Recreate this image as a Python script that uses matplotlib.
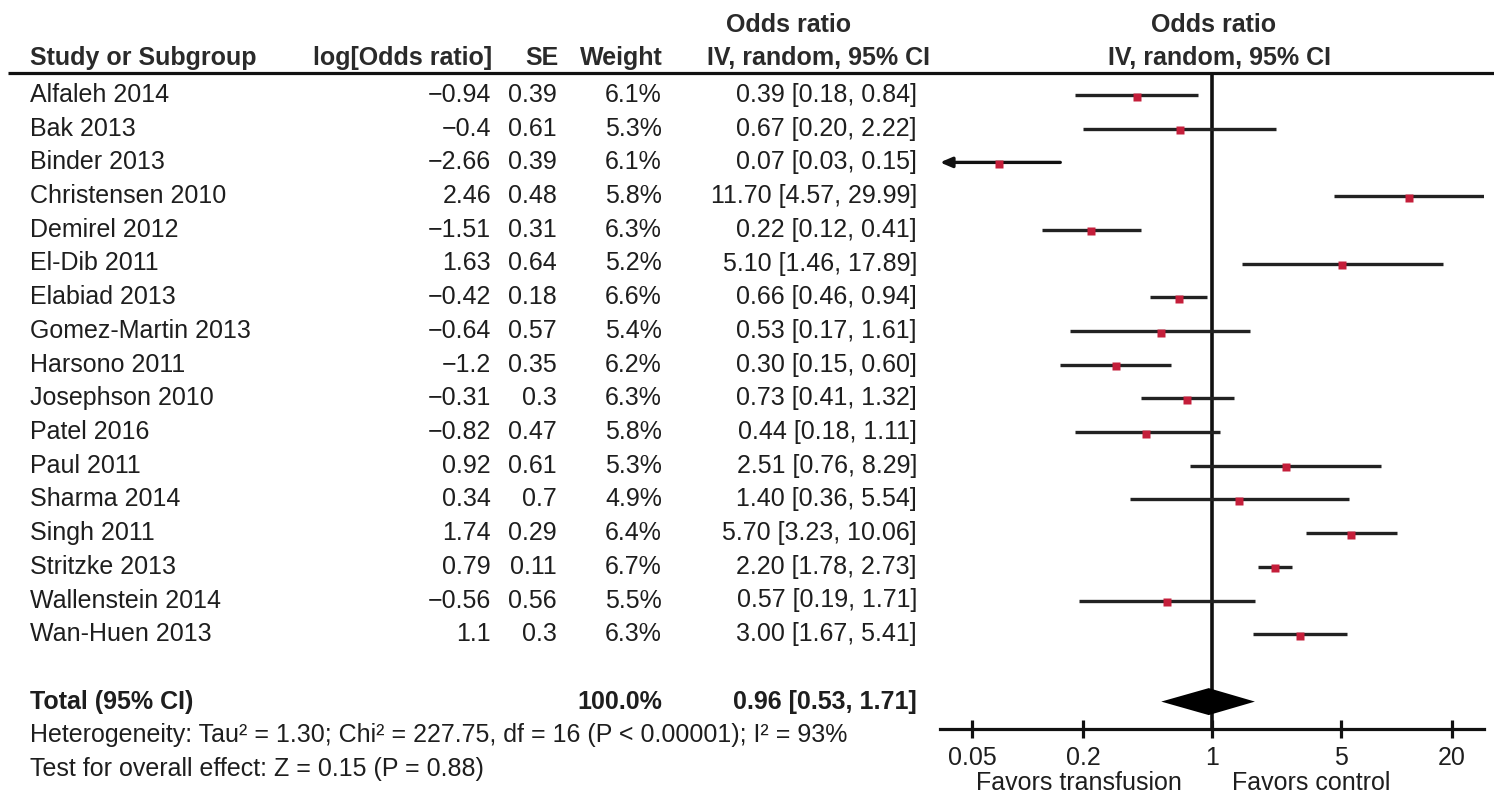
import matplotlib.pyplot as plt
import numpy as np

plt.rcParams['font.family'] = ['Liberation Sans', 'DejaVu Sans']

# study data
studies = ['Alfaleh 2014', 'Bak 2013', 'Binder 2013', 'Christensen 2010', 'Demirel 2012',
           'El-Dib 2011', 'Elabiad 2013', 'Gomez-Martin 2013', 'Harsono 2011',
           'Josephson 2010', 'Patel 2016', 'Paul 2011', 'Sharma 2014', 'Singh 2011',
           'Stritzke 2013', 'Wallenstein 2014', 'Wan-Huen 2013']
log_or = [-0.94, -0.4, -2.66, 2.46, -1.51, 1.63, -0.42, -0.64, -1.2, -0.31, -0.82,
          0.92, 0.34, 1.74, 0.79, -0.56, 1.1]
se = [0.39, 0.61, 0.39, 0.48, 0.31, 0.64, 0.18, 0.57, 0.35, 0.3, 0.47, 0.61, 0.7,
      0.29, 0.11, 0.56, 0.3]
weights = [6.1, 5.3, 6.1, 5.8, 6.3, 5.2, 6.6, 5.4, 6.2, 6.3, 5.8, 5.3, 4.9, 6.4, 6.7,
           5.5, 6.3]
odds = [0.39, 0.67, 0.07, 11.70, 0.22, 5.10, 0.66, 0.53, 0.30, 0.73, 0.44, 2.51,
        1.40, 5.70, 2.20, 0.57, 3.00]
ci_lo = [0.18, 0.20, 0.03, 4.57, 0.12, 1.46, 0.46, 0.17, 0.15, 0.41, 0.18, 0.76,
         0.36, 3.23, 1.78, 0.19, 1.67]
ci_hi = [0.84, 2.22, 0.15, 29.99, 0.41, 17.89, 0.94, 1.61, 0.60, 1.32, 1.11, 8.29,
         5.54, 10.06, 2.73, 1.71, 5.41]

total_or, total_lo, total_hi = 0.96, 0.53, 1.71
total_weight = 100.0
hetero_text = 'Heterogeneity: Tau² = 1.30; Chi² = 227.75, df = 16 (P < 0.00001); I² = 93%'
effect_text = 'Test for overall effect: Z = 0.15 (P = 0.88)'

x_ticks = [0.05, 0.2, 1, 5, 20]
x_tick_labels = ['0.05', '0.2', '1', '5', '20']
x_limits = (1 / 30, 30)

W, H = 1494, 794
ROW0, ROWH = 95, 33.7  # pixel y of first row, row height


def row_of(py):
    return (py - ROW0) / ROWH


txt_color = '#1e1e1e'
fs = 18

fig = plt.figure(figsize=(W / 100, H / 100), dpi=100)

# text table axes: x in pixels, y in row units
tax = fig.add_axes([0, 0, 1, 1])
tax.set_xlim(0, W)
tax.set_ylim(row_of(H), row_of(0))
tax.axis('off')

hdr = dict(fontsize=fs, fontweight='bold', color='#2a2a2a', va='center')
tax.text(30, row_of(58), 'Study or Subgroup', ha='left', **hdr)
tax.text(492, row_of(58), 'log[Odds ratio]', ha='right', **hdr)
tax.text(559, row_of(58), 'SE', ha='right', **hdr)
tax.text(663, row_of(58), 'Weight', ha='right', **hdr)
tax.text(789, row_of(25), 'Odds ratio', ha='center', **hdr)
tax.text(930, row_of(58), 'IV, random, 95% CI', ha='right', **hdr)
tax.text(1214, row_of(25), 'Odds ratio', ha='center', **hdr)
tax.text(1219, row_of(58), 'IV, random, 95% CI', ha='center', **hdr)
tax.plot([8, W], [row_of(73), row_of(73)], color='#111111', lw=2.3, solid_capstyle='butt')

body = dict(fontsize=fs, color=txt_color, va='center')
for i, name in enumerate(studies):
    tax.text(30, i, name, ha='left', **body)
    tax.text(491, i, str(log_or[i]).replace('-', '\u2212'), ha='right', **body)
    tax.text(557, i, str(se[i]), ha='right', **body)
    tax.text(662, i, '%.1f%%' % weights[i], ha='right', **body)
    tax.text(917, i, '%.2f [%.2f, %.2f]' % (odds[i], ci_lo[i], ci_hi[i]), ha='right', **body)

n = len(studies)
total_row = n + 1
bold = dict(body, fontweight='bold')
tax.text(30, total_row, 'Total (95% CI)', ha='left', **bold)
tax.text(662, total_row, '%.1f%%' % total_weight, ha='right', **bold)
tax.text(917, total_row, '%.2f [%.2f, %.2f]' % (total_or, total_lo, total_hi), ha='right', **bold)
tax.text(30, total_row + 1, hetero_text, ha='left', **body)
tax.text(30, total_row + 2, effect_text, ha='left', **body)

# forest plot axes
ax_top, ax_bot = 73, 729
fax = fig.add_axes([940 / W, (H - ax_bot) / H, 544 / W, (ax_bot - ax_top) / H])
fax.set_xscale('log')
fax.set_xlim(*x_limits)
fax.set_ylim(row_of(ax_bot), row_of(ax_top))
fax.patch.set_alpha(0)
for s in ['top', 'left', 'right']:
    fax.spines[s].set_visible(False)
fax.spines['bottom'].set_linewidth(2.3)
fax.spines['bottom'].set_color('#111111')
fax.set_yticks([])
fax.set_xticks(x_ticks)
fax.set_xticklabels(x_tick_labels)
fax.minorticks_off()
fax.tick_params(axis='x', direction='inout', length=13, width=2.3, color='#111111',
                labelsize=fs, labelcolor=txt_color, pad=6)

fax.axvline(1, color='#111111', lw=2.6, zorder=1)

rows = np.arange(n)
for i in rows:
    if ci_lo[i] < x_limits[0]:
        # interval runs off the scale: draw an arrow to the left edge
        fax.annotate('', xy=(x_limits[0], i), xytext=(ci_hi[i], i),
                     arrowprops=dict(arrowstyle='-|>,head_length=0.7,head_width=0.3',
                                     color='#111111', lw=2.4, shrinkA=0, shrinkB=0),
                     annotation_clip=False)
    else:
        fax.plot([ci_lo[i], ci_hi[i]], [i, i], color='#222222', lw=2.4,
                 solid_capstyle='butt', zorder=2)
fax.plot(odds, rows + 0.05, 's', color='#c41e3a', ms=6, mec='none', zorder=3)

dh = 0.4
fax.fill([total_lo, total_or, total_hi, total_or],
         [total_row, total_row - dh, total_row, total_row + dh], color='black', lw=0, zorder=3)

fax.text(0.69, row_of(783), 'Favors transfusion', ha='right', va='center', fontsize=fs,
         color=txt_color, clip_on=False)
fax.text(1.29, row_of(783), 'Favors control', ha='left', va='center', fontsize=fs,
         color=txt_color, clip_on=False)

fig.savefig('out.png', dpi=100)
